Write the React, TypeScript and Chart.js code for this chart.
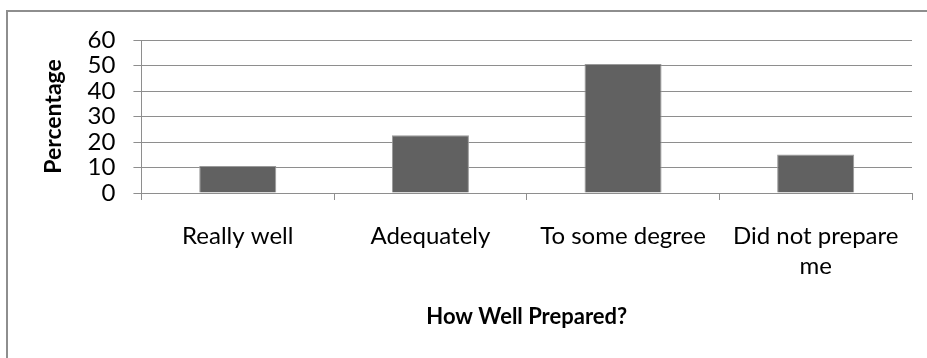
import React, { useEffect, useRef } from "react";
import { Chart, registerables } from "chart.js";

Chart.register(...registerables);

const categories: (string | string[])[] = ["Really well", "Adequately", "To some degree", ["Did not prepare", "me"]];
const percentages: number[] = [10.6, 22.6, 50.6, 15.1];
const yMin = 0;
const yMax = 60;
const yStep = 10;
const xTitle = "How Well Prepared?";
const yTitle = "Percentage";

const FONT = "Lato, 'Open Sans', sans-serif";

const framePlugin = {
  id: "frame",
  beforeDraw(chart: any) {
    const ctx = chart.ctx;
    ctx.save();
    ctx.strokeStyle = "#8e8e8e";
    ctx.lineWidth = 2;
    ctx.beginPath();
    ctx.moveTo(7, chart.height + 5);
    ctx.lineTo(7, 11);
    ctx.lineTo(chart.width + 5, 11);
    ctx.stroke();
    ctx.restore();
  },
};

export default function App() {
  const ref = useRef<HTMLCanvasElement | null>(null);
  useEffect(() => {
    document.body.style.margin = "0";
    const canvas = ref.current!;
    const chart = new Chart(canvas, {
      type: "bar",
      data: {
        labels: categories,
        datasets: [
          {
            data: percentages,
            backgroundColor: "#616161",
            borderColor: "#9a9a9a",
            borderWidth: 1,
            barPercentage: 0.4,
            categoryPercentage: 1,
          },
        ],
      },
      options: {
        animation: false,
        responsive: false,
        maintainAspectRatio: false,
        layout: { padding: { left: 40, right: 15, top: 40, bottom: 12 } },
        plugins: {
          legend: { display: false },
          tooltip: { enabled: false },
        },
        scales: {
          x: {
            grid: {
              offset: true,
              drawOnChartArea: false,
              color: "#8e8e8e",
              tickLength: 7,
            },
            border: { color: "#8e8e8e", width: 1 },
            ticks: {
              color: "#000",
              font: { family: FONT, size: 24, lineHeight: "30px" },
              maxRotation: 0,
              minRotation: 0,
              padding: 21,
            },
            title: {
              display: true,
              text: xTitle,
              color: "#000",
              font: { family: FONT, size: 22, weight: "bold" },
              padding: { top: 12, bottom: 16 },
            },
          },
          y: {
            min: yMin,
            max: yMax,
            grid: {
              color: "#8e8e8e",
              tickLength: 8,
            },
            border: { color: "#8e8e8e", width: 1 },
            ticks: {
              stepSize: yStep,
              autoSkip: false,
              color: "#000",
              font: { family: FONT, size: 24 },
              padding: 18,
            },
            title: {
              display: true,
              text: yTitle,
              color: "#000",
              font: { family: FONT, size: 23, weight: "bold" },
              padding: { top: 0, bottom: 2 },
            },
          },
        },
      },
      plugins: [framePlugin],
    } as any);
    return () => chart.destroy();
  }, []);
  return <canvas ref={ref} width={927} height={358} style={{ display: "block" }} />;
}
